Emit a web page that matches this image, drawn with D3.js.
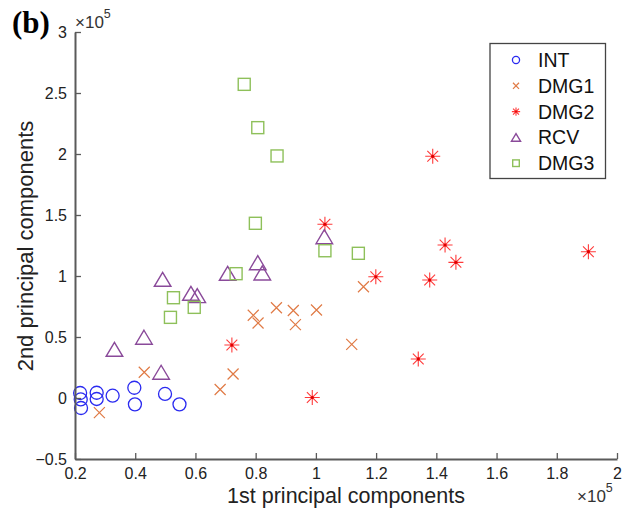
<!DOCTYPE html>
<html>
<head>
<meta charset="utf-8">
<script src="https://cdn.jsdelivr.net/npm/d3@7"></script>
<style>
  body { margin: 0; background: #fff; }
  text { font-family: "Liberation Sans", Arial, sans-serif; }
</style>
</head>
<body>
<div id="chart"></div>
<script>
// values are in units of 1e5 (as shown by the x10^5 exponent labels)
var intX  = [0.217, 0.219, 0.220, 0.272, 0.272, 0.325, 0.397, 0.399, 0.499, 0.547]
var intY  = [0.041, -0.012, -0.082, 0.043, -0.008, 0.019, 0.084, -0.052, 0.033, -0.052]

var dmg1X = [0.281, 0.430, 0.682, 0.725, 0.792, 0.808, 0.869, 0.925, 0.932, 1.002, 1.119, 1.158]
var dmg1Y = [-0.120, 0.211, 0.070, 0.197, 0.678, 0.615, 0.740, 0.717, 0.602, 0.721, 0.440, 0.912]

var dmg2X = [0.721, 0.988, 1.030, 1.199, 1.340, 1.378, 1.388, 1.429, 1.465, 1.905]
var dmg2Y = [0.434, 0.004, 1.424, 0.994, 0.320, 0.967, 1.981, 1.254, 1.112, 1.199]

var rcvX  = [0.331, 0.429, 0.486, 0.491, 0.585, 0.606, 0.707, 0.807, 0.822, 1.028]
var rcvY  = [0.399, 0.498, 0.211, 0.973, 0.858, 0.839, 1.022, 1.109, 1.025, 1.322]

var dmg3X = [0.517, 0.527, 0.596, 0.735, 0.762, 0.799, 0.807, 0.871, 1.030, 1.141]
var dmg3Y = [0.661, 0.822, 0.743, 1.019, 2.571, 1.432, 2.216, 1.984, 1.207, 1.186]

var seriesNames = ["INT", "DMG1", "DMG2", "RCV", "DMG3"]
var xTicks = [0.2, 0.4, 0.6, 0.8, 1, 1.2, 1.4, 1.6, 1.8, 2]
var yTicks = [-0.5, 0, 0.5, 1, 1.5, 2, 2.5, 3]

const w = 624, h = 511
const padL = 75, padR = 617, padT = 32, padB = 459
const axisColor = "#5a5a5a"

const xScale = d3.scaleLinear().domain([0.2, 2]).range([padL, padR])
const yScale = d3.scaleLinear().domain([-0.5, 3]).range([padB, padT])

const svg = d3.select("#chart").append("svg")
  .attr("width", w).attr("height", h)

// marker drawing helpers, s = scale factor
function drawMarker(g, type, color, s) {
  if (type == "circle") {
    g.append("circle").attr("r", 6.5 * s).attr("fill", "none")
      .attr("stroke", color).attr("stroke-width", 1.3)
  } else if (type == "x") {
    var a = 5.5 * s
    g.append("path").attr("d", `M${-a},${-a}L${a},${a}M${-a},${a}L${a},${-a}`)
      .attr("stroke", color).attr("stroke-width", 1.2)
  } else if (type == "star") {
    var a = 7.5 * s, b = a * 0.72
    g.append("path")
      .attr("d", `M0,${-a}L0,${a}M${-a},0L${a},0M${-b},${-b}L${b},${b}M${-b},${b}L${b},${-b}`)
      .attr("stroke", color).attr("stroke-width", 1.1)
    g.append("circle").attr("r", 1.6 * s).attr("fill", "#e00000")
  } else if (type == "tri") {
    var hw = 8.3 * s, hh = 7 * s
    g.append("path").attr("d", `M0,${-hh}L${hw},${hh}L${-hw},${hh}Z`)
      .attr("fill", "none").attr("stroke", color).attr("stroke-width", 1.4)
  } else if (type == "square") {
    var a = 6 * s
    g.append("rect").attr("x", -a).attr("y", -a).attr("width", 2 * a).attr("height", 2 * a)
      .attr("fill", "none").attr("stroke", color).attr("stroke-width", 1.4)
  }
}

const series = [
  {name: seriesNames[0], xs: intX,  ys: intY,  type: "circle", color: "#2a2af0"},
  {name: seriesNames[1], xs: dmg1X, ys: dmg1Y, type: "x",      color: "#e07a45"},
  {name: seriesNames[2], xs: dmg2X, ys: dmg2Y, type: "star",   color: "#ff3a3a"},
  {name: seriesNames[3], xs: rcvX,  ys: rcvY,  type: "tri",    color: "#8a4a9a"},
  {name: seriesNames[4], xs: dmg3X, ys: dmg3Y, type: "square", color: "#8ec05a"}
]

// points
series.forEach(function(sr) {
  sr.xs.forEach(function(xv, i) {
    var g = svg.append("g")
      .attr("transform", "translate(" + xScale(xv) + "," + yScale(sr.ys[i]) + ")")
    drawMarker(g, sr.type, sr.color, 1)
  })
})

// axes (ticks pointing inward)
const fmt = d => d < 0 ? "\u2212" + Math.abs(d) : String(d)
const xAxis = d3.axisBottom(xScale).tickValues(xTicks).tickSizeInner(-6).tickSizeOuter(0)
  .tickPadding(9).tickFormat(fmt)
const yAxis = d3.axisLeft(yScale).tickValues(yTicks).tickSizeInner(-6).tickSizeOuter(0)
  .tickPadding(8).tickFormat(fmt)

const gx = svg.append("g").attr("transform", "translate(0," + padB + ")").call(xAxis)
const gy = svg.append("g").attr("transform", "translate(" + padL + ",0)").call(yAxis)
;[gx, gy].forEach(function(g) {
  g.select(".domain").attr("stroke", axisColor).attr("stroke-width", 2)
  g.selectAll(".tick line").attr("stroke", axisColor).attr("stroke-width", 1.3)
  g.selectAll(".tick text").attr("fill", "#222").style("font-size", "16px")
    .style("font-family", "'Liberation Sans', Arial, sans-serif")
})
gy.selectAll(".tick text").attr("dy", "0.36em")

// axis labels
svg.append("text").attr("x", 346).attr("y", 503).attr("text-anchor", "middle")
  .style("font-size", "21.5px").attr("fill", "#222").text("1st principal components")
svg.append("text").attr("transform", "translate(33,246) rotate(-90)")
  .attr("text-anchor", "middle").style("font-size", "22px").attr("fill", "#222")
  .text("2nd principal components")

// exponent labels
function expLabel(x, y) {
  var t = svg.append("text").attr("x", x).attr("y", y).style("font-size", "17px").attr("fill", "#333")
  t.append("tspan").text("\u00d710")
  t.append("tspan").attr("dy", -10).style("font-size", "12.5px").text("5")
}
expLabel(75, 28)
expLabel(577, 502)

// panel tag
svg.append("text").attr("x", 12).attr("y", 33)
  .style("font-family", "'Liberation Serif', 'Times New Roman', serif")
  .style("font-size", "31px").style("font-weight", "bold").text("(b)")

// legend
const legend = svg.append("g")
legend.append("rect").attr("x", 490).attr("y", 43.5).attr("width", 115.5).attr("height", 135)
  .attr("fill", "#fff").attr("stroke", "#444").attr("stroke-width", 1.3)
series.forEach(function(sr, i) {
  var yy = 60 + i * 25.8
  var g = legend.append("g").attr("transform", "translate(516," + yy + ")")
  drawMarker(g, sr.type, sr.color, 0.55)
  legend.append("text").attr("x", 538).attr("y", yy + 7).style("font-size", "19.5px")
    .attr("fill", "#111").text(sr.name)
})
</script>
</body>
</html>
